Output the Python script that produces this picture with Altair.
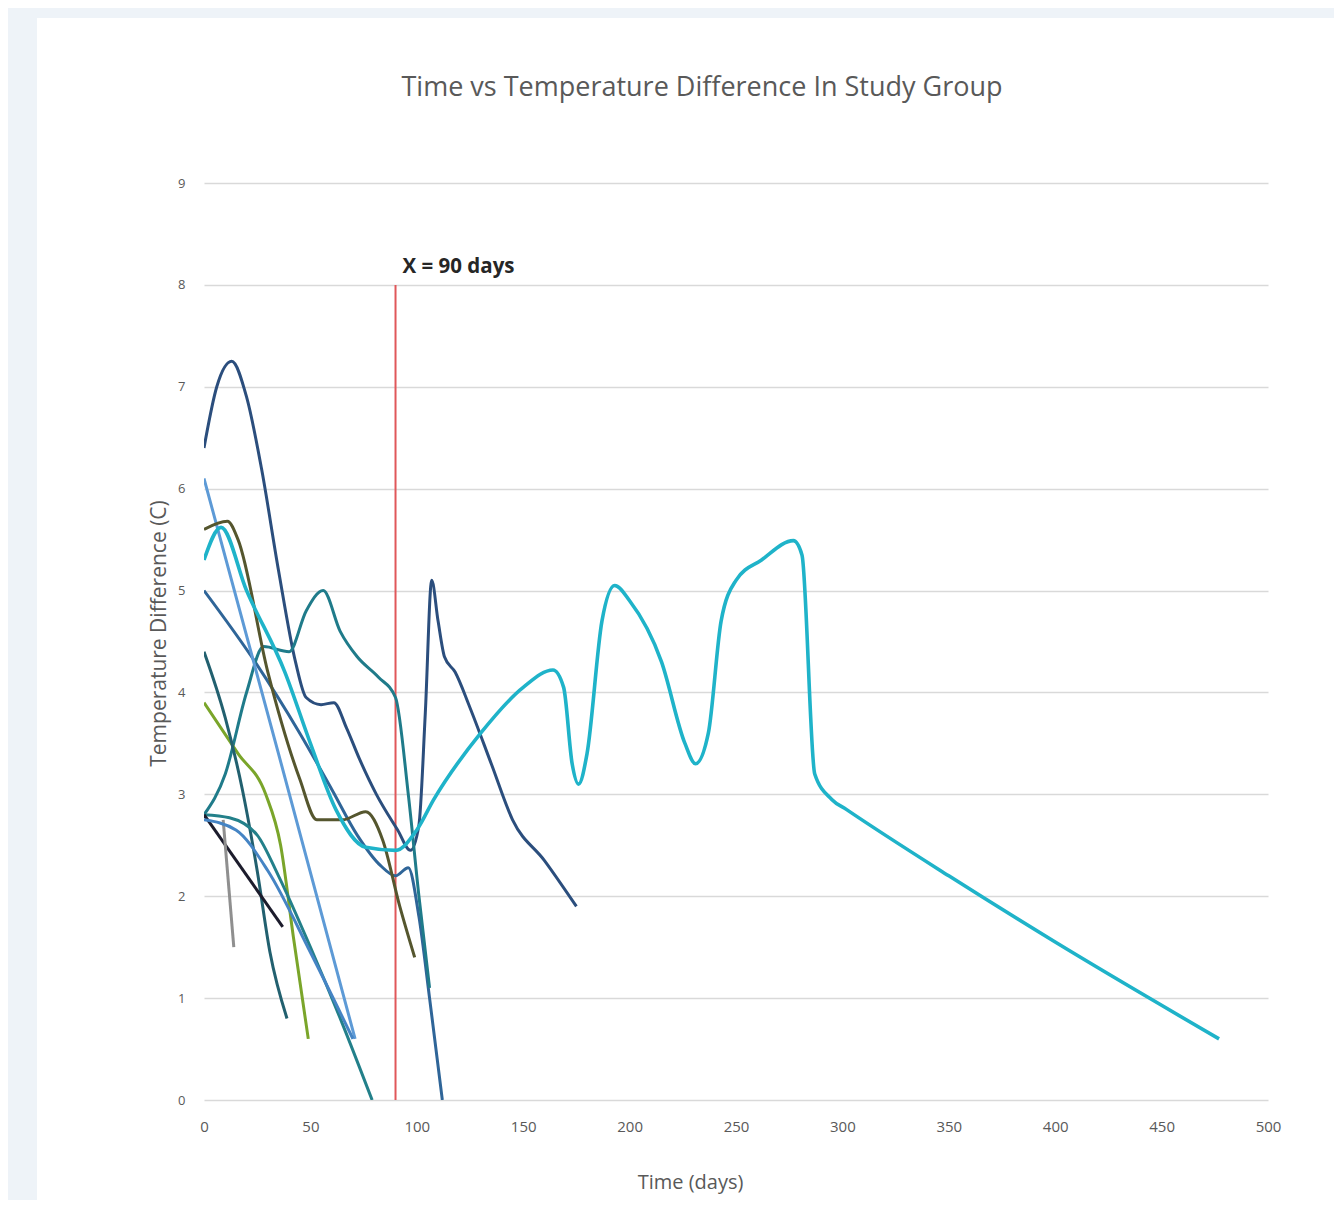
import altair as alt
import pandas as pd

# ---------------- data ----------------
series_names = ["A", "B", "C", "D", "E", "F", "G", "H", "I", "K", "L", "N"]
series_colors = ["#2b4e7d", "#2f6598", "#1f7b8a", "#5d9ad6", "#1fb3c9", "#55562e",
                 "#7aa52a", "#22606f", "#23808a", "#1c1c2c", "#8f8f8f", "#4584c4"]

a_x = [0, 6, 13, 20, 27, 35, 43, 48, 55, 61, 67, 73, 81, 91, 97, 101, 104, 107, 110, 113, 118, 125, 135, 145, 160, 175]
a_y = [6.4, 7.0, 7.25, 6.9, 6.2, 5.2, 4.3, 3.95, 3.88, 3.9, 3.65, 3.35, 3.0, 2.65, 2.45, 2.7, 3.8, 5.1, 4.7, 4.35, 4.2, 3.85, 3.3, 2.75, 2.35, 1.9]

b_x = [0, 24, 45, 60, 72, 83, 90, 96, 101, 106, 112]
b_y = [5.0, 4.3, 3.6, 3.05, 2.6, 2.3, 2.2, 2.28, 1.8, 1.0, 0.0]

c_x = [0, 10, 20, 28, 40, 48, 56, 64, 72, 82, 90, 96, 101, 106]
c_y = [2.8, 3.2, 4.0, 4.45, 4.4, 4.8, 5.0, 4.6, 4.35, 4.15, 3.95, 3.0, 2.0, 1.1]

d_x = [0, 35, 71]
d_y = [6.1, 3.4, 0.6]

e_x = [0, 8, 20, 38, 50, 62, 76, 90, 100, 108, 130, 150, 164, 169, 173, 176, 180, 187, 193, 200, 215, 226, 231, 237, 243, 250, 262, 277, 281, 287, 295, 302, 350, 400, 477]
e_y = [5.3, 5.62, 5.0, 4.2, 3.5, 2.85, 2.48, 2.45, 2.65, 2.95, 3.6, 4.05, 4.22, 4.05, 3.3, 3.1, 3.4, 4.7, 5.05, 4.9, 4.3, 3.5, 3.3, 3.6, 4.7, 5.1, 5.3, 5.49, 5.35, 3.2, 2.95, 2.85, 2.2, 1.55, 0.6]

f_x = [0, 11, 16, 30, 45, 53, 65, 76, 84, 92, 99]
f_y = [5.6, 5.68, 5.5, 4.2, 3.15, 2.75, 2.75, 2.83, 2.55, 1.9, 1.4]

g_x = [0, 16, 29, 36, 42, 49]
g_y = [3.9, 3.4, 3.0, 2.5, 1.6, 0.6]

h_x = [0, 10, 18, 25, 31, 39]
h_y = [4.4, 3.75, 3.05, 2.25, 1.45, 0.8]

i_x = [0, 12, 25, 35, 50, 65, 79]
i_y = [2.8, 2.77, 2.6, 2.2, 1.5, 0.75, 0.0]

k_x = [0, 37]
k_y = [2.8, 1.7]

l_x = [9, 14]
l_y = [2.75, 1.5]

n_x = [0, 15, 30, 50, 70]
n_y = [2.75, 2.65, 2.25, 1.45, 0.6]

x_ticks = [0, 50, 100, 150, 200, 250, 300, 350, 400, 450, 500]
y_ticks = [0, 1, 2, 3, 4, 5, 6, 7, 8, 9]

marker_day = [90]
marker_top = [8]
marker_label = ["X = 90 days"]

title_text = "Time vs Temperature Difference In Study Group"
x_title = "Time (days)"
y_title = "Temperature Difference (C)"

# ---------------- build table ----------------
all_x = [a_x, b_x, c_x, d_x, e_x, f_x, g_x, h_x, i_x, k_x, l_x, n_x]
all_y = [a_y, b_y, c_y, d_y, e_y, f_y, g_y, h_y, i_y, k_y, l_y, n_y]
rows = []
for name, xs, ys in zip(series_names, all_x, all_y):
    for i, (xv, yv) in enumerate(zip(xs, ys)):
        rows.append({"series": name, "day": xv, "temp": yv, "idx": i})
df = pd.DataFrame(rows)

rule_df = pd.DataFrame({"day": marker_day, "y0": [0], "y1": marker_top, "label": marker_label})

FONT = "Open Sans"
GRAY = "#595959"

x_enc = alt.X("day:Q", scale=alt.Scale(domain=[0, 500], nice=False, zero=False),
              axis=alt.Axis(values=x_ticks, grid=False, ticks=False, domain=False, labelFlush=False,
                            labelPadding=19, labelFontSize=15, labelColor=GRAY, labelFont=FONT,
                            title=x_title, titleFontSize=20, titleColor=GRAY, titleFont=FONT,
                            titleFontWeight="normal", titlePadding=38, titleX=486))
y_enc = alt.Y("temp:Q", scale=alt.Scale(domain=[0, 9], nice=False),
              axis=alt.Axis(values=y_ticks, format="d", grid=True, gridColor="#d9d9d9", gridWidth=1.5,
                            ticks=False, domain=False, labelPadding=19, labelFontSize=13,
                            labelColor=GRAY, labelFont=FONT,
                            title=y_title, titleFontSize=21, titleColor=GRAY, titleFont=FONT,
                            titleFontWeight="normal", titlePadding=8, titleY=450))

color_enc = alt.Color("series:N", scale=alt.Scale(domain=series_names, range=series_colors), legend=None)

base = alt.Chart(df).encode(x=x_enc, y=y_enc, color=color_enc, order="idx:Q")

thin = base.transform_filter(alt.datum.series != "E").mark_line(interpolate="monotone", strokeWidth=3, clip=True)
thick = base.transform_filter(alt.datum.series == "E").mark_line(interpolate="monotone", strokeWidth=3.6, clip=True)

rule = alt.Chart(rule_df).mark_rule(color="#e0575a", strokeWidth=2).encode(
    x="day:Q", y="y0:Q", y2="y1:Q")

label = alt.Chart(rule_df).mark_text(align="left", baseline="bottom", dx=7, dy=-8,
                                     fontSize=20.5, fontWeight="bold", font=FONT,
                                     color="#262626").encode(x="day:Q", y="y1:Q", text="label:N")

# chart title drawn as text above the plot
title_df = pd.DataFrame({"t": [title_text]})
title_mark = alt.Chart(title_df).mark_text(align="center", baseline="middle", fontSize=27,
                                           font=FONT, color=GRAY).encode(
    x=alt.value(498), y=alt.value(-95), text="t:N")

# light blue page band (decoration outside the plot area)
band_df = pd.DataFrame({"k": [0]})
left_band = alt.Chart(band_df).mark_rect(color="#eef3f8").encode(
    x=alt.value(-196), x2=alt.value(-167), y=alt.value(-175), y2=alt.value(1033))
top_band = alt.Chart(band_df).mark_rect(color="#eef3f8").encode(
    x=alt.value(-196), x2=alt.value(1130), y=alt.value(-175), y2=alt.value(-165))

chart = alt.layer(left_band, top_band, rule, thin, thick, label, title_mark).properties(
    width=1064, height=917,
    autosize=alt.AutoSizeParams(type="none"),
    padding={"left": 196, "top": 175, "right": 66, "bottom": 100},
    background="white",
).configure_view(stroke=None)

chart.save("out.html", embed_options={"renderer": "svg", "actions": False})
